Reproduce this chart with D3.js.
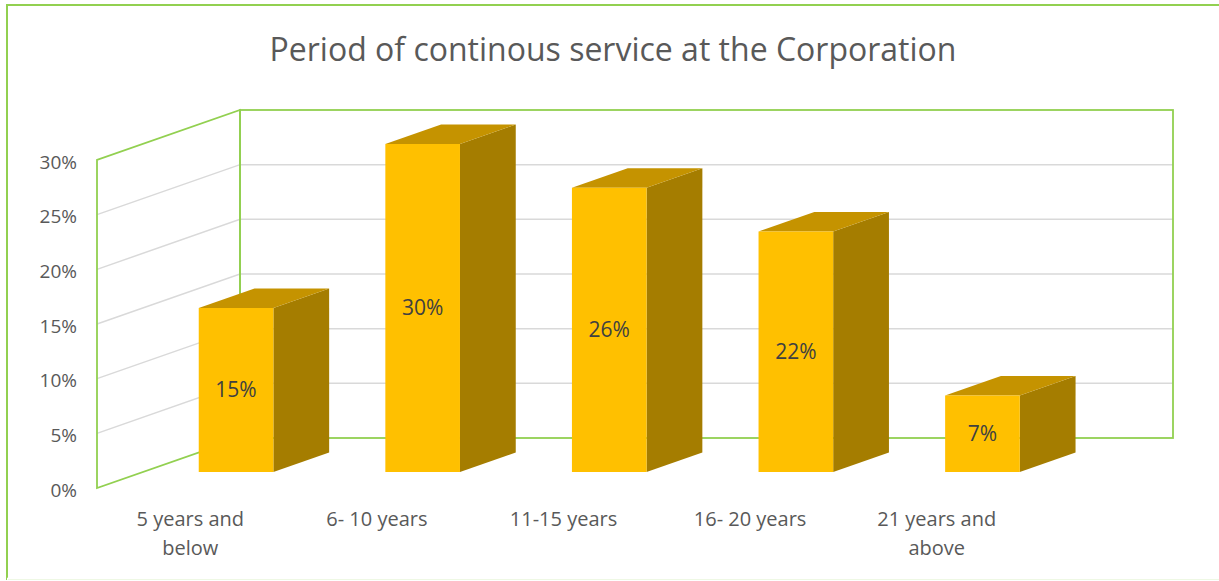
<!DOCTYPE html>
<html>
<head>
<meta charset="utf-8">
<script src="https://cdn.jsdelivr.net/npm/d3@7"></script>
<style>
  body { margin: 0; background: #fff; }
  svg { display: block; font-family: "Open Sans", Lato, sans-serif; }
</style>
</head>
<body>
<svg id="chart" width="1219" height="581"></svg>
<script>
var categories = ["5 years and below", "6- 10 years", "11-15 years", "16- 20 years", "21 years and above"];
var catLines = [["5 years and", "below"], ["6- 10 years"], ["11-15 years"], ["16- 20 years"], ["21 years and", "above"]];
var values = [0.15, 0.30, 0.26, 0.22, 0.07];
var valueLabels = ["15%", "30%", "26%", "22%", "7%"];
var yTicks = [0, 0.05, 0.10, 0.15, 0.20, 0.25, 0.30];

var svg = d3.select("#chart");

// outer chart border
svg.append("rect")
    .attr("x", 7).attr("y", 5)
    .attr("width", 1240).attr("height", 574)
    .attr("fill", "none")
    .attr("stroke", "#92D050")
    .attr("stroke-width", 2);
svg.append("line")
    .attr("x1", 7).attr("x2", 1219).attr("y1", 579).attr("y2", 579)
    .attr("stroke", "#fff").attr("stroke-width", 2.5);
svg.append("line")
    .attr("x1", 8).attr("x2", 1219).attr("y1", 579.5).attr("y2", 579.5)
    .attr("stroke", "#eef8e4").attr("stroke-width", 1);

svg.append("text")
    .attr("x", 613).attr("y", 61)
    .attr("text-anchor", "middle")
    .attr("font-size", 32)
    .attr("fill", "#595959")
    .text("Period of continous service at the Corporation");

// 3d projection: front plane plus depth shift
var DX = 143, DY = -50;
var x = d3.scaleBand().domain(categories).range([97, 1030]);
var y = d3.scaleLinear().domain([0, 0.30]).range([488, 160]);
function px(xv, d) { return xv + d * DX; }
function py(yv, d) { return yv + d * DY; }

var x0 = x.range()[0], x1 = x.range()[1];

// gridlines on left and back walls
var grid = svg.append("g").attr("stroke", "#d9d9d9").attr("stroke-width", 1.5).attr("fill", "none");
yTicks.slice(1, -1).forEach(function (t) {
    grid.append("path").attr("d", d3.line()([
        [x0, y(t)], [px(x0, 1), py(y(t), 1)], [px(x1, 1), py(y(t), 1)]
    ]));
});

// wall outlines
var walls = svg.append("g").attr("stroke", "#92D050").attr("stroke-width", 1.8).attr("fill", "none");
walls.append("path").attr("d", d3.line()([
    [x0, y(0)], [x0, y(0.30)], [px(x0, 1), py(y(0.30), 1)], [px(x0, 1), py(y(0), 1)]
]) + "Z");
walls.append("rect")
    .attr("x", px(x0, 1)).attr("y", py(y(0.30), 1))
    .attr("width", x1 - x0).attr("height", y(0) - y(0.30));

// y axis labels
var yAxis = svg.append("g")
    .attr("transform", "translate(" + (x0 - 2) + ",2)")
    .call(d3.axisLeft(y).tickValues(yTicks).tickFormat(d3.format(".0%")).tickSize(0).tickPadding(18));
yAxis.select(".domain").remove();
yAxis.selectAll("text")
    .attr("font-family", "'Open Sans', Lato, sans-serif")
    .attr("font-size", 19)
    .attr("fill", "#595959");

// bars
var bw = x.bandwidth() * 0.4;
var f0 = 0.32, f1 = 0.71;
var bars = svg.append("g")
    .selectAll("g")
    .data(categories.map(function (c, i) { return { cat: c, value: values[i], label: valueLabels[i] }; }))
    .enter()
    .append("g");

bars.each(function (d) {
    var g = d3.select(this);
    var xl = x(d.cat) + (x.bandwidth() - bw) / 2;
    var xr = xl + bw;
    var yb = y(0), yt = y(d.value);
    var line = d3.line();
    // side
    g.append("path")
        .attr("d", line([[px(xr, f0), py(yb, f0)], [px(xr, f0), py(yt, f0)], [px(xr, f1), py(yt, f1)], [px(xr, f1), py(yb, f1)]]) + "Z")
        .attr("fill", "#A57D00");
    // top
    g.append("path")
        .attr("d", line([[px(xl, f0), py(yt, f0)], [px(xr, f0), py(yt, f0)], [px(xr, f1), py(yt, f1)], [px(xl, f1), py(yt, f1)]]) + "Z")
        .attr("fill", "#C59300");
    // front
    g.append("path")
        .attr("d", line([[px(xl, f0), py(yb, f0)], [px(xl, f0), py(yt, f0)], [px(xr, f0), py(yt, f0)], [px(xr, f0), py(yb, f0)]]) + "Z")
        .attr("fill", "#FFC000");
    g.append("text")
        .attr("x", px((xl + xr) / 2, f0))
        .attr("y", py((yb + yt) / 2, f0))
        .attr("dy", "0.35em")
        .attr("text-anchor", "middle")
        .attr("font-size", 21)
        .attr("fill", "#404040")
        .text(d.label);
});

// category labels
svg.append("g")
    .selectAll("text")
    .data(categories)
    .enter()
    .append("text")
    .attr("x", function (d) { return x(d) + x.bandwidth() / 2; })
    .attr("y", 526)
    .attr("text-anchor", "middle")
    .attr("font-size", 20)
    .attr("fill", "#595959")
    .each(function (d, i) {
        var t = d3.select(this);
        catLines[i].forEach(function (ln, j) {
            t.append("tspan")
                .attr("x", x(d) + x.bandwidth() / 2)
                .attr("dy", j === 0 ? 0 : 29)
                .text(ln);
        });
    });
</script>
</body>
</html>
